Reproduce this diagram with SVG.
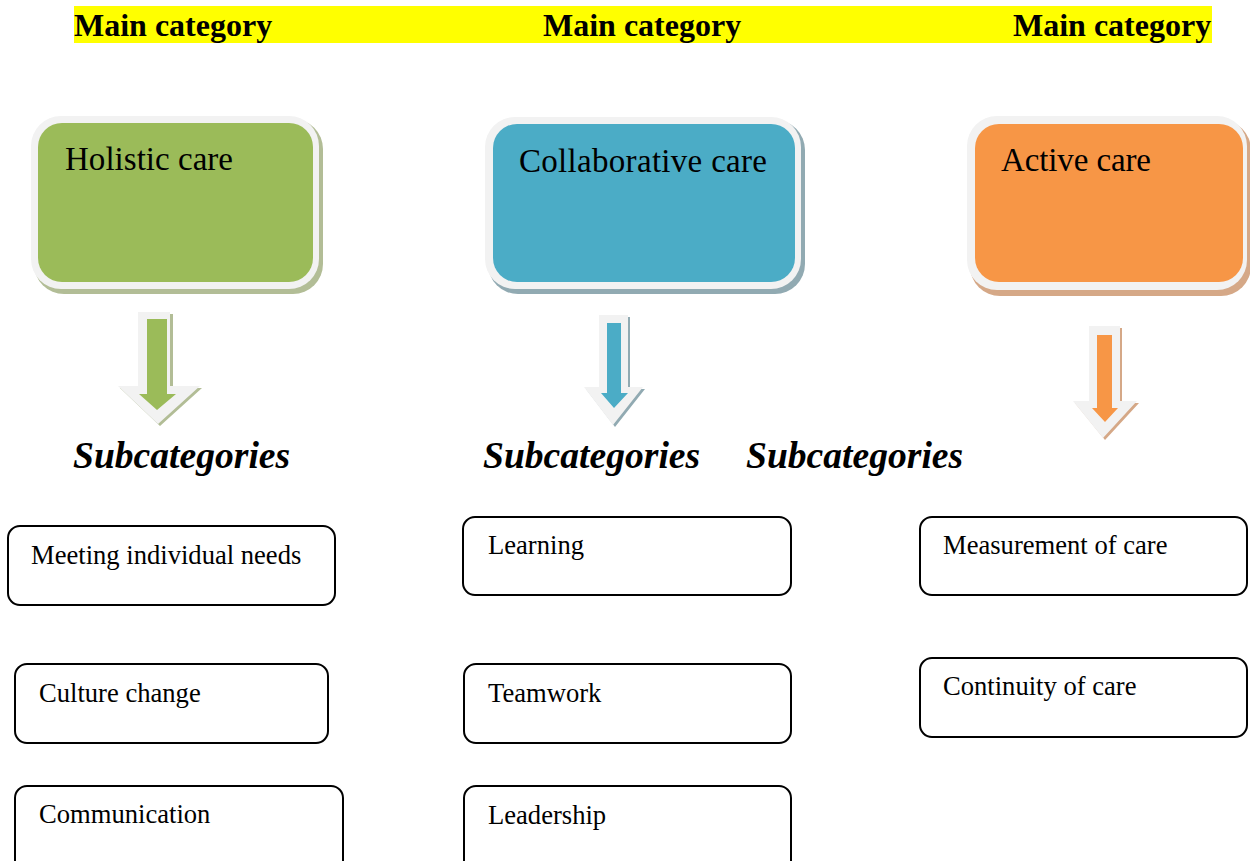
<svg xmlns="http://www.w3.org/2000/svg" width="1250" height="861" viewBox="0 0 1250 861">
  <style>
    .hdr { font-family: "Liberation Serif", serif; font-weight: bold; font-size: 32px; fill: #000; }
    .cat { font-family: "Liberation Serif", serif; font-size: 33px; fill: #000; }
    .sub { font-family: "Liberation Serif", serif; font-weight: bold; font-style: italic; font-size: 37.6px; fill: #000; }
    .item { font-family: "Liberation Serif", serif; font-size: 26.6px; fill: #000; }
    .frame { fill: #f2f2f2; }
    .box { fill: #ffffff; stroke: #000; stroke-width: 2; }
  </style>

  <!-- header band -->
  <rect x="74" y="6" width="1138" height="37" fill="#ffff00"/>
  <text class="hdr" x="74" y="36">Main category</text>
  <text class="hdr" x="543" y="36">Main category</text>
  <text class="hdr" x="1013" y="36">Main category</text>

  <!-- main category blocks -->
  <g id="holistic">
    <rect x="34" y="119" width="289" height="175" rx="30" fill="#b2bd96"/>
    <rect class="frame" x="31" y="116" width="288" height="173" rx="30"/>
    <rect x="38" y="123" width="275" height="159" rx="24" fill="#9bbb59"/>
    <text class="cat" x="65" y="170" textLength="168">Holistic care</text>
  </g>
  <g id="collaborative">
    <rect x="488" y="120" width="317" height="174" rx="30" fill="#91aab2"/>
    <rect class="frame" x="485" y="117" width="316" height="172" rx="30"/>
    <rect x="493" y="124" width="302" height="158" rx="24" fill="#4bacc6"/>
    <text class="cat" x="519" y="172" textLength="248">Collaborative care</text>
  </g>
  <g id="active">
    <rect x="970" y="120" width="281" height="176" rx="30" fill="#d5a887"/>
    <rect class="frame" x="967" y="116" width="280" height="174" rx="30"/>
    <rect x="975" y="124" width="268" height="158" rx="24" fill="#f79646"/>
    <text class="cat" x="1001" y="171" textLength="150">Active care</text>
  </g>

  <!-- down arrows -->
  <g id="connectors">
    <g id="arrow-holistic">
      <polygon points="141,314 173,314 173,388 202,388 160,426 120,388 141,388" fill="#b2bd96"/>
      <polygon class="frame" points="138,312 170,312 170,386 200,386 158,424 118,386 138,386"/>
      <polygon points="147,319 167,319 167,394 176,394 157,410 139,394 147,394" fill="#9bbb59"/>
    </g>
    <g id="arrow-collaborative">
      <polygon points="601,317 630,317 630,389 645,389 615,427 586,389 601,389" fill="#91aab2"/>
      <polygon class="frame" points="599,315 628,315 628,387 643,387 613,425 584,387 599,387"/>
      <polygon points="607,323 621,323 621,393 628,393 614,408 601,393 607,393" fill="#4bacc6"/>
    </g>
    <g id="arrow-active">
      <polygon points="1091,328 1122,328 1122,403 1139,403 1105,440 1075,403 1091,403" fill="#d5a887"/>
      <polygon class="frame" points="1089,326 1120,326 1120,401 1137,401 1103,438 1073,401 1089,401"/>
      <polygon points="1097,335 1112,335 1112,408 1118,408 1105,422 1092,408 1097,408" fill="#f79646"/>
    </g>
  </g>

  <!-- subcategory headings -->
  <text class="sub" x="73" y="468">Subcategories</text>
  <text class="sub" x="483" y="468">Subcategories</text>
  <text class="sub" x="746" y="468">Subcategories</text>

  <!-- subcategory items -->
  <g id="meeting-needs">
    <rect class="box" x="8" y="526" width="327" height="79" rx="12"/>
    <text class="item" x="31" y="564">Meeting individual needs</text>
  </g>
  <g id="culture-change">
    <rect class="box" x="15" y="664" width="313" height="79" rx="12"/>
    <text class="item" x="39" y="702">Culture change</text>
  </g>
  <g id="communication">
    <rect class="box" x="15" y="786" width="328" height="100" rx="12"/>
    <text class="item" x="39" y="823">Communication</text>
  </g>
  <g id="learning">
    <rect class="box" x="463" y="517" width="328" height="78" rx="12"/>
    <text class="item" x="488" y="554">Learning</text>
  </g>
  <g id="teamwork">
    <rect class="box" x="464" y="664" width="327" height="79" rx="12"/>
    <text class="item" x="488" y="702">Teamwork</text>
  </g>
  <g id="leadership">
    <rect class="box" x="464" y="786" width="327" height="100" rx="12"/>
    <text class="item" x="488" y="824">Leadership</text>
  </g>
  <g id="measurement">
    <rect class="box" x="920" y="517" width="327" height="78" rx="12"/>
    <text class="item" x="943" y="554">Measurement of care</text>
  </g>
  <g id="continuity">
    <rect class="box" x="920" y="658" width="327" height="79" rx="12"/>
    <text class="item" x="943" y="695">Continuity of care</text>
  </g>
</svg>
